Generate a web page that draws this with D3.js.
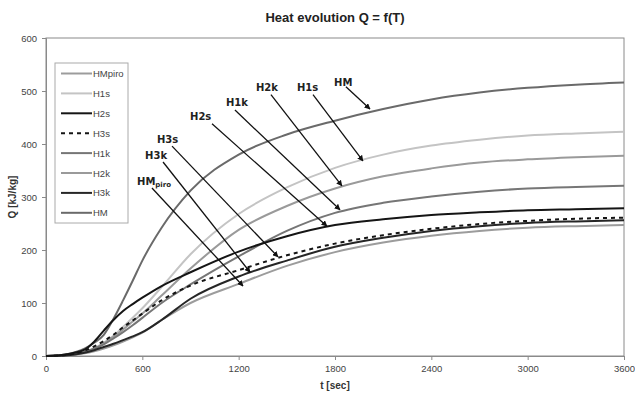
<!DOCTYPE html>
<html><head><meta charset="utf-8">
<script src="https://cdn.jsdelivr.net/npm/d3@7"></script>
<style>body{margin:0;background:#fff}svg{display:block}</style>
</head><body>
<svg id="c" width="635" height="395"></svg>
<script>
const times = [0,120,240,300,360,420,480,540,600,720,900,1200,1500,1800,2100,2400,2700,3000,3300,3600];
const HMpiro = [0,1,5,9,14,20,27,35,44,68,100,136,170,196,214,227,236,242,245,247];
const H1s    = [0,2,8,15,25,38,55,72,90,130,192,268,318,355,380,397,408,416,420,423];
const H2s    = [0,3,12,27,48,68,85,98,110,132,158,197,226,247,258,266,271,275,277,279];
const H3s    = [0,2,10,18,28,40,54,67,80,105,133,162,190,212,228,240,249,255,259,261];
const H1k    = [0,2,8,14,22,33,45,58,72,100,135,188,236,270,289,301,310,316,319,321];
const H2k    = [0,2,8,14,24,36,50,65,80,114,165,238,283,316,339,354,365,371,375,378];
const H3k    = [0,1,6,11,17,23,30,37,45,68,108,150,180,206,223,236,245,251,254,256];
const HM     = [0,3,14,25,40,70,105,142,180,242,312,380,418,444,466,484,497,506,512,516];

const seriesNames = ["HMpiro","H1s","H2s","H3s","H1k","H2k","H3k","HM"];
const seriesValues = [HMpiro,H1s,H2s,H3s,H1k,H2k,H3k,HM];
const seriesColors = ["#9c9c9c","#c4c4c4","#151515","#151515","#767676","#9a9a9a","#262626","#6a6a6a"];
const seriesDash = [null,null,null,"4,4",null,null,null,null];

const xTicks = [0,600,1200,1800,2400,3000,3600];
const yTicks = [0,100,200,300,400,500,600];

// annotations: label, label (t,Q), arrow start (t,Q), arrow tip (t,Q)
const annLabels = ["HM","H1s","H2k","H1k","H2s","H3s","H3k","HM"];
const annSub    = ["","","","","","","","piro"];
const annLabelT = [1794,1563,1308,1121,897,691,617,567];
const annLabelQ = [509,500,500,472,445,402,372,323];
const annFromT  = [1868,1663,1401,1177,1034,785,729,660];
const annFromQ  = [508,493,493,464,438,396,366,317];
const annToT    = [2018,1974,1843,1831,1750,1445,1271,1227];
const annToQ    = [466,368,321,276,245,187,158,132];

const svg = d3.select("#c");
const M = {left:46, right:624, top:38, bottom:356};
const x = d3.scaleLinear().domain([0,3600]).range([M.left,M.right]);
const y = d3.scaleLinear().domain([0,600]).range([M.bottom,M.top]);

const defs = svg.append("defs");
defs.append("marker").attr("id","ah").attr("viewBox","0 0 10 10").attr("refX",9).attr("refY",5)
  .attr("markerWidth",6).attr("markerHeight",6).attr("markerUnits","userSpaceOnUse").attr("orient","auto")
  .append("path").attr("d","M0,0 L10,5 L0,10 z").attr("fill","#111");

// title
svg.append("text").attr("x",(M.left+M.right)/2).attr("y",22).attr("text-anchor","middle")
  .attr("font-family","Liberation Sans, Arial, sans-serif").attr("font-weight","bold").attr("font-size",13)
  .attr("fill","#222").text("Heat evolution Q = f(T)");

// frame
svg.append("rect").attr("x",M.left).attr("y",M.top).attr("width",M.right-M.left).attr("height",M.bottom-M.top)
  .attr("fill","none").attr("stroke","#8a8a8a").attr("stroke-width",1);

const xAxis = svg.append("g").attr("transform",`translate(0,${M.bottom})`)
  .call(d3.axisBottom(x).tickValues(xTicks).tickSize(4).tickPadding(5).tickFormat(d3.format("d")));
const yAxis = svg.append("g").attr("transform",`translate(${M.left},0)`)
  .call(d3.axisLeft(y).tickValues(yTicks).tickSize(4).tickPadding(5).tickFormat(d3.format("d")));
[xAxis,yAxis].forEach(g=>{
  g.select(".domain").attr("stroke","#8a8a8a");
  g.selectAll(".tick line").attr("stroke","#8a8a8a");
  g.selectAll("text").attr("font-family","Liberation Sans, Arial, sans-serif").attr("font-size",9.5).attr("fill","#444");
});

svg.append("text").attr("x",(M.left+M.right)/2).attr("y",389).attr("text-anchor","middle")
  .attr("font-family","Liberation Sans, Arial, sans-serif").attr("font-weight","bold").attr("font-size",10)
  .attr("fill","#333").text("t [sec]");
svg.append("text").attr("transform",`translate(16,${(M.top+M.bottom)/2}) rotate(-90)`).attr("text-anchor","middle")
  .attr("font-family","Liberation Sans, Arial, sans-serif").attr("font-weight","bold").attr("font-size",10)
  .attr("fill","#333").text("Q [kJ/kg]");

// lines
const line = d3.line().x((d,i)=>x(times[i])).y(d=>y(d)).curve(d3.curveMonotoneX);
const drawOrder = [7,1,5,4,0,6,3,2];
drawOrder.forEach(i=>{
  svg.append("path").attr("d",line(seriesValues[i])).attr("fill","none")
    .attr("stroke",seriesColors[i]).attr("stroke-width",2)
    .attr("stroke-dasharray",seriesDash[i]);
});

// annotations
annLabels.forEach((lab,i)=>{
  svg.append("line").attr("x1",x(annFromT[i])).attr("y1",y(annFromQ[i]))
    .attr("x2",x(annToT[i])).attr("y2",y(annToQ[i]))
    .attr("stroke","#111").attr("stroke-width",1.3).attr("marker-end","url(#ah)");
  const t = svg.append("text").attr("x",x(annLabelT[i])).attr("y",y(annLabelQ[i]))
    .attr("font-family","DejaVu Sans, Verdana, sans-serif").attr("font-weight","bold").attr("font-size",10)
    .attr("fill","#222").text(lab);
  if(annSub[i]) t.append("tspan").attr("font-size",7).attr("dy",2).text(annSub[i]);
});

// legend
const lg = svg.append("g");
lg.append("rect").attr("x",55).attr("y",63).attr("width",73).attr("height",160)
  .attr("fill","#fff").attr("stroke","#aaa").attr("stroke-width",1);
seriesNames.forEach((n,i)=>{
  const yy = 73.5 + i*19.9;
  lg.append("line").attr("x1",61).attr("x2",92).attr("y1",yy).attr("y2",yy)
    .attr("stroke",seriesColors[i]).attr("stroke-width",2).attr("stroke-dasharray",seriesDash[i]);
  lg.append("text").attr("x",93).attr("y",yy+3.5).attr("font-family","Liberation Sans, Arial, sans-serif")
    .attr("font-size",9.5).attr("fill","#444").text(n);
});
</script>
</body></html>
